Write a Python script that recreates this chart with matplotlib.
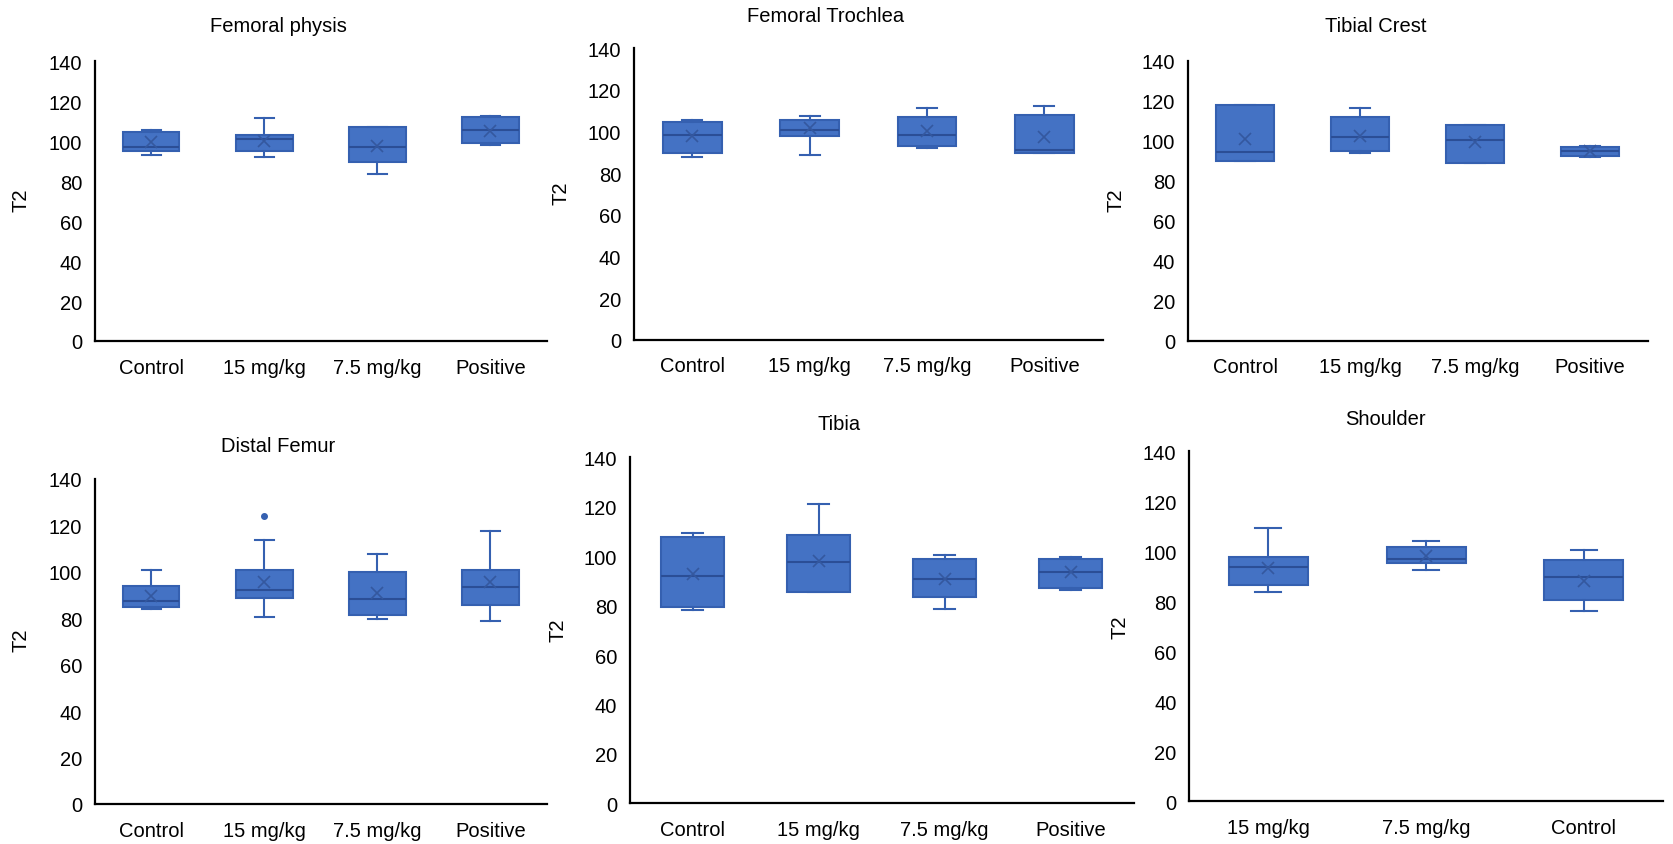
import matplotlib.pyplot as plt

plt.rcParams['font.family'] = ['Liberation Sans', 'DejaVu Sans']

# T2 box plot summaries per region: whisker low, Q1, median, Q3, whisker high, mean
groups4 = ['Control', '15 mg/kg', '7.5 mg/kg', 'Positive']
groups_shoulder = ['15 mg/kg', '7.5 mg/kg', 'Control']

physis_lo = [93.2, 91.8, 83.5, 98.0]
physis_q1 = [95.2, 95.2, 89.3, 99.0]
physis_med = [96.8, 101.0, 96.8, 105.6]
physis_q3 = [104.3, 103.0, 106.8, 111.8]
physis_hi = [105.6, 111.7, 106.8, 112.7]
physis_mean = [99.3, 100.2, 97.3, 105.2]

trochlea_lo = [87.6, 88.8, 92.0, 89.6]
trochlea_q1 = [89.6, 97.9, 93.1, 89.6]
trochlea_med = [98.4, 100.7, 98.3, 91.2]
trochlea_q3 = [104.4, 105.5, 106.8, 107.9]
trochlea_hi = [105.5, 107.5, 111.2, 112.3]
trochlea_mean = [97.9, 101.6, 100.3, 97.6]

crest_lo = [90.0, 93.8, 88.8, 91.7]
crest_q1 = [90.0, 95.0, 88.8, 92.5]
crest_med = [94.2, 102.0, 100.5, 95.0]
crest_q3 = [117.8, 111.7, 108.0, 97.0]
crest_hi = [117.8, 116.5, 108.0, 97.5]
crest_mean = [100.8, 102.5, 99.2, 94.7]

distal_lo = [83.8, 80.7, 79.7, 78.7]
distal_q1 = [84.8, 88.8, 81.5, 85.8]
distal_med = [87.4, 92.4, 88.4, 93.4]
distal_q3 = [93.7, 101.0, 100.1, 101.0]
distal_hi = [101.0, 113.6, 107.5, 117.8]
distal_mean = [89.5, 95.5, 90.8, 95.5]
distal_out = [[], [124.0], [], []]

tibia_lo = [78.4, 85.4, 78.7, 86.4]
tibia_q1 = [79.4, 85.4, 83.4, 87.2]
tibia_med = [91.8, 97.6, 90.6, 93.5]
tibia_q3 = [107.7, 108.6, 98.7, 98.7]
tibia_hi = [109.3, 121.2, 100.5, 99.6]
tibia_mean = [92.8, 98.2, 90.8, 93.5]

shoulder_lo = [83.9, 92.5, 76.0]
shoulder_q1 = [86.5, 95.3, 80.5]
shoulder_med = [93.9, 96.9, 89.6]
shoulder_q3 = [97.6, 101.6, 96.7]
shoulder_hi = [109.3, 104.3, 100.5]
shoulder_mean = [93.3, 98.3, 88.3]

W, H = 1673, 845
fig = plt.figure(figsize=(W / 100, H / 100), dpi=100)

BLUE = '#4472C4'
EDGE = '#3560B0'
DARK = '#2B4E96'
XMARK = '#34589F'


def add_panel(rect_px, title, title_xy, ylab_xy, cats, lo, q1, med, q3, hi, mean, fliers=None):
    l, t, r, b = rect_px
    ax = fig.add_axes([l / W, 1 - b / H, (r - l) / W, (b - t) / H])
    stats = []
    for i in range(len(cats)):
        stats.append(dict(whislo=lo[i], q1=q1[i], med=med[i], q3=q3[i], whishi=hi[i],
                          mean=mean[i], fliers=fliers[i] if fliers else [], label=cats[i]))
    pos = list(range(len(cats)))
    ax.bxp(stats, positions=pos, widths=0.5, capwidths=0.17, showmeans=True,
           patch_artist=True,
           boxprops=dict(facecolor=BLUE, edgecolor=EDGE, linewidth=1.5),
           medianprops=dict(color=DARK, linewidth=1.5),
           whiskerprops=dict(color=EDGE, linewidth=1.5),
           capprops=dict(color=EDGE, linewidth=1.5),
           meanprops=dict(marker='x', markeredgecolor=XMARK, markersize=8, markeredgewidth=1.2),
           flierprops=dict(marker='o', markerfacecolor=EDGE, markeredgecolor=EDGE, markersize=4))
    ax.set_xlim(-0.5, len(cats) - 0.5)
    ax.set_ylim(0, 140)
    ax.set_yticks(range(0, 141, 20))
    ax.set_xticks(pos)
    ax.set_xticklabels(cats)
    for s in ['top', 'right']:
        ax.spines[s].set_visible(False)
    for s in ['left', 'bottom']:
        ax.spines[s].set_linewidth(1.6)
        ax.spines[s].set_color('black')
    ax.tick_params(axis='both', length=0, labelsize=14.5, colors='black')
    ax.tick_params(axis='y', pad=9)
    ax.tick_params(axis='x', pad=12)
    ax.patch.set_alpha(0)
    fig.text(title_xy[0] / W, 1 - title_xy[1] / H, title, ha='center', va='center', fontsize=14.5)
    fig.text(ylab_xy[0] / W, 1 - ylab_xy[1] / H, 'T2', ha='center', va='center',
             rotation=90, fontsize=14.5)
    return ax


add_panel((94.6, 62, 547, 342), 'Femoral physis', (278, 27), (21, 200), groups4,
          physis_lo, physis_q1, physis_med, physis_q3, physis_hi, physis_mean)
add_panel((633.7, 49.3, 1103, 340.7), 'Femoral Trochlea', (826, 17), (561, 193), groups4,
          trochlea_lo, trochlea_q1, trochlea_med, trochlea_q3, trochlea_hi, trochlea_mean)
add_panel((1187.7, 61.7, 1647.7, 341.7), 'Tibial Crest', (1376, 27), (1116, 200), groups4,
          crest_lo, crest_q1, crest_med, crest_q3, crest_hi, crest_mean)
add_panel((94.6, 480, 547, 805), 'Distal Femur', (278, 447), (21, 640), groups4,
          distal_lo, distal_q1, distal_med, distal_q3, distal_hi, distal_mean, distal_out)
add_panel((629.5, 458.3, 1133.5, 804.3), 'Tibia', (839, 425), (558, 630), groups4,
          tibia_lo, tibia_q1, tibia_med, tibia_q3, tibia_hi, tibia_mean)
add_panel((1189, 452.3, 1663, 802.3), 'Shoulder', (1385, 420), (1120, 627), groups_shoulder,
          shoulder_lo, shoulder_q1, shoulder_med, shoulder_q3, shoulder_hi, shoulder_mean)

fig.savefig('out.png', dpi=100, facecolor='white')
